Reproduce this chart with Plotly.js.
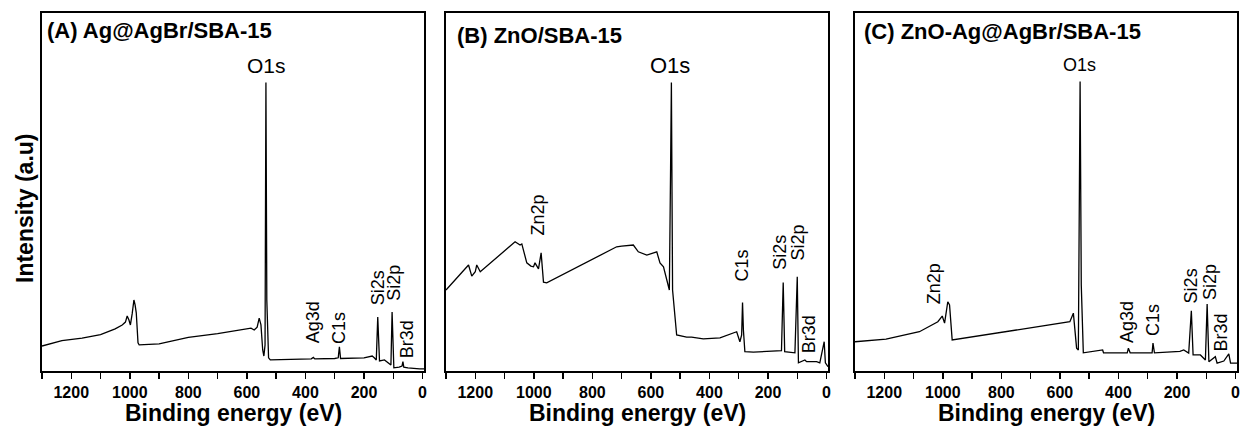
<!DOCTYPE html>
<html>
<head>
<meta charset="utf-8">
<script src="https://cdn.plot.ly/plotly-3.0.1.min.js"></script>
<style>html,body{margin:0;padding:0;background:#fff;}#chart{width:1243px;height:442px;}</style>
</head>
<body>
<div id="chart"></div>
<script>
// ---------- Data (binding energy in eV, intensity in a.u.) ----------
const energyA = [1300,1232,1163,1100,1050,1026,1015,1009,1003,998,992,986,982,978,972,968,900,800,700,586,575,565,558,552,546,542,538,535,532,529,526,520,450,380,373,368,300,288,284,280,200,180,172,165,158,153,150,147,130,122,115,108,104,101,98,80,70,67,64,50,30,10,-5];
const intensityA = [6.7,8.2,8.9,9.9,11.5,12.6,13.4,15.1,14.0,12.6,15.7,19.6,18.2,16.0,7.6,7.0,7.3,9.1,10.2,11.7,11.2,12.0,14.5,12.6,5.6,3.9,7.0,80.5,19.6,9.8,3.4,2.8,2.9,3.1,3.5,3.1,3.2,3.4,6.5,3.2,3.4,3.7,3.9,3.4,2.8,14.8,7.0,2.5,2.8,2.2,1.7,1.4,16.2,8.4,0.6,0.8,1.1,2.3,0.8,0.6,0.4,0.3,0.3];

const energyB = [1300,1223,1212,1200,1195,1183,1064,1047,1041,1024,1010,1001,996,984,975,967,956,717,700,660,643,614,580,569,557,546,537,533,530,526,518,512,478,461,421,364,307,296,290,287,284,279,250,154,148,143,108,100,96,74,68,34,23,8,4,-5];
const intensityB = [22.4,29.4,26.3,27.5,29.4,27.5,35.9,35.0,35.3,30.0,29.1,28.9,30.0,28.3,32.8,24.6,24.4,34.5,34.7,35.0,33.1,32.2,33.1,30.0,28.9,25.2,22.4,54.6,80.5,22.4,14.0,9.8,9.2,9.2,8.7,9.0,10.7,7.9,9.8,18.9,11.2,5.1,5.0,5.4,24.5,5.1,4.8,26.1,2.0,2.8,2.3,2.3,2.0,7.9,2.0,0.9];

const energyC = [1300,1194,1080,1017,1002,994,983,977,968,566,554,543,537,531,527,520,454,451,370,366,360,285,282,277,190,177,160,151,145,120,103,97,91,69,63,40,23,17,-5];
const intensityC = [7.9,8.6,10.7,13.5,15.1,13.1,19.1,18.2,8.4,13.5,15.9,6.1,5.6,80.8,23.8,4.8,5.6,4.8,4.8,6.1,4.8,4.8,7.5,4.8,5.2,5.6,4.7,16.6,4.2,4.2,2.8,18.5,2.3,3.7,1.9,2.5,4.5,1.9,1.9];

// Peak labels: text, energy position (eV), intensity position
const peakTextA = ["O1s","Ag3d","C1s","Si2s","Si2p","Br3d"];
const peakEnergyA = [533,374,285,154,98,52];
const peakIntensityA = [85.4,13.4,11.8,23.0,24.4,8.7];

const peakTextB = ["O1s","Zn2p","C1s","Si2s","Si2p","Br3d"];
const peakEnergyB = [535,984,287,159,99,59];
const peakIntensityB = [85.4,43.4,29.1,33.1,35.6,10.1];

const peakTextC = ["O1s","Zn2p","Ag3d","C1s","Si2s","Si2p","Br3d"];
const peakEnergyC = [534,1029,371,282,151,88,51];
const peakIntensityC = [85.4,24.1,13.4,14.0,23.5,24.6,10.4];

const panelTitles = ["(A) Ag@AgBr/SBA-15","(B) ZnO/SBA-15","(C) ZnO-Ag@AgBr/SBA-15"];
const xTickVals = [1200,1000,800,600,400,200,0];
const xTitle = "Binding energy (eV)";
const yTitle = "Intensity (a.u)";

// ---------- Layout ----------
const W = 1243, H = 442;
const FONT = "Arial, 'Liberation Sans', sans-serif";
const frames = [[42,424],[446,828],[855,1237]];
const yTop = 13, yBot = 371;
const ydom = [1 - yBot/H, 1 - yTop/H];

const panels = [
  {e: energyA, i: intensityA, pt: peakTextA, pe: peakEnergyA, pi: peakIntensityA, o1: 21, titleDx: 0.008, titleDy: 0.9525},
  {e: energyB, i: intensityB, pt: peakTextB, pe: peakEnergyB, pi: peakIntensityB, o1: 22, titleDx: 0.024, titleDy: 0.937},
  {e: energyC, i: intensityC, pt: peakTextC, pe: peakEnergyC, pi: peakIntensityC, o1: 18, titleDx: 0.018, titleDy: 0.947}
];

const traces = [];
const annotations = [];
const layout = {
  width: W, height: H,
  margin: {l:0, r:0, t:0, b:0},
  paper_bgcolor: "#fff", plot_bgcolor: "#fff",
  showlegend: false,
  font: {family: FONT, color: "#000"}
};

panels.forEach((p, k) => {
  const n = k === 0 ? "" : String(k+1);
  const xa = "x" + n, ya = "y" + n;
  traces.push({
    x: p.e, y: p.i, xaxis: xa, yaxis: ya,
    type: "scatter", mode: "lines",
    line: {color: "#000", width: 1.3},
    hoverinfo: "skip"
  });
  layout["xaxis" + n] = {
    domain: [frames[k][0]/W, frames[k][1]/W],
    anchor: ya,
    range: [1300, -5],
    tickvals: xTickVals,
    ticks: "outside", ticklen: 6, tickwidth: 1.5, tickcolor: "#000",
    minor: {dtick: 100, tick0: 0, ticks: "outside", ticklen: 6, tickwidth: 1.5, tickcolor: "#000", showgrid: false},
    tickfont: {family: FONT, size: 16, color: "#000", weight: "bold"},
    showline: true, linewidth: 2, linecolor: "#000", mirror: true,
    showgrid: false, zeroline: false, fixedrange: true
  };
  layout["yaxis" + n] = {
    domain: ydom,
    anchor: xa,
    range: [-0.3, 100],
    showticklabels: false, ticks: "",
    showline: true, linewidth: 2, linecolor: "#000", mirror: true,
    showgrid: false, zeroline: false, fixedrange: true
  };
  // panel title
  annotations.push({
    xref: xa + " domain", yref: ya + " domain",
    x: p.titleDx, y: p.titleDy, xanchor: "left", yanchor: "middle",
    text: "<b>" + panelTitles[k] + "</b>", showarrow: false,
    font: {family: FONT, size: 22, color: "#000"}
  });
  // x axis title
  annotations.push({
    xref: xa + " domain", yref: "paper",
    x: 0.5, y: 1 - 413/H, xanchor: "center", yanchor: "middle",
    text: "<b>" + xTitle + "</b>", showarrow: false,
    font: {family: FONT, size: 23, color: "#000"}
  });
  // peak labels
  p.pt.forEach((t, j) => {
    const isO = t === "O1s";
    annotations.push({
      xref: xa, yref: ya, x: p.pe[j], y: p.pi[j],
      xanchor: "center", yanchor: "middle",
      text: t, showarrow: false, textangle: isO ? 0 : -90,
      font: {family: FONT, size: isO ? p.o1 : 18, color: "#000"}
    });
  });
});

annotations.push({
  xref: "paper", yref: "paper", x: 25/W, y: 1 - 208/H,
  xanchor: "center", yanchor: "middle", textangle: -90,
  text: "<b>" + yTitle + "</b>", showarrow: false,
  font: {family: FONT, size: 23, color: "#000"}
});
layout.annotations = annotations;

Plotly.newPlot("chart", traces, layout, {staticPlot: true, displayModeBar: false});
</script>
</body>
</html>
